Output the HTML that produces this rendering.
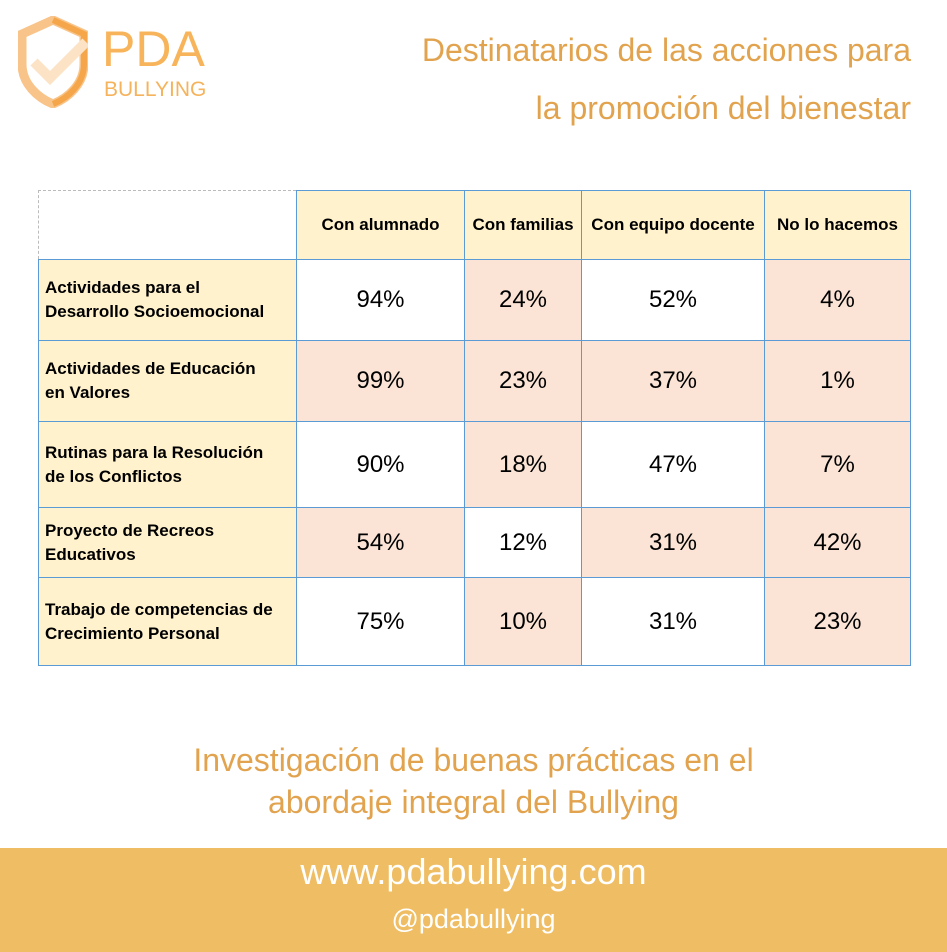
<!DOCTYPE html>
<html><head><meta charset="utf-8"><style>
body{margin:0;width:947px;height:952px;position:relative;background:#fff;font-family:"Liberation Sans",sans-serif;overflow:hidden}
.c{position:absolute;box-sizing:border-box;border:1px solid #5b9bd5;display:flex;align-items:center;justify-content:center;color:#000}
.h{font-weight:bold;font-size:17px}
.l{justify-content:flex-start;padding-left:6px;font-weight:bold;font-size:17px;line-height:24px;background:#fff2cc;white-space:nowrap}
.v{font-size:24px}
.t{position:absolute;color:#e2a34f;white-space:nowrap}
</style></head><body>
<svg style="position:absolute;left:18px;top:16px" width="70" height="92" viewBox="0 0 70 92">
<path d="M35 4 L4 18 V48 C4 68 20 82 35 88 C50 82 66 68 66 48 V18 Z" fill="none" stroke="#f8c48a" stroke-width="9"/>
<path d="M35 4 L66 18 V48 C66 68 50 82 35 88" fill="none" stroke="#f5a64a" stroke-width="6"/>
<path d="M16 46 L32 62 L68 26" fill="none" stroke="#fde3c6" stroke-width="10"/>
</svg>
<div class="t" style="left:102px;top:20px;font-size:50px;color:#f7b45a">PDA</div>
<div class="t" style="left:104px;top:78px;font-size:21px;color:#f5b35c">BULLYING</div>
<div class="t" style="right:36px;top:32px;font-size:32px">Destinatarios de las acciones para</div>
<div class="t" style="right:36px;top:90px;font-size:32px">la promoción del bienestar</div>

<div style="position:absolute;left:38px;top:190px;width:258px;height:69px;box-sizing:border-box;border:1px dashed #bbb;border-right:none;border-bottom:none"></div>
<div class="c h" style="left:296px;top:190px;width:169px;height:70px;background:#fff2cc">Con alumnado</div>
<div class="c h" style="left:464px;top:190px;width:118px;height:70px;background:#fff2cc">Con familias</div>
<div class="c h" style="left:581px;top:190px;width:184px;height:70px;background:#fff2cc">Con equipo docente</div>
<div class="c h" style="left:764px;top:190px;width:147px;height:70px;background:#fff2cc">No lo hacemos</div>

<div class="c l" style="left:38px;top:259px;width:259px;height:82px">Actividades para el<br>Desarrollo Socioemocional</div>
<div class="c v" style="left:296px;top:259px;width:169px;height:82px;background:#fff">94%</div>
<div class="c v" style="left:464px;top:259px;width:118px;height:82px;background:#fbe4d5">24%</div>
<div class="c v" style="left:581px;top:259px;width:184px;height:82px;background:#fff">52%</div>
<div class="c v" style="left:764px;top:259px;width:147px;height:82px;background:#fbe4d5">4%</div>

<div class="c l" style="left:38px;top:340px;width:259px;height:82px">Actividades de Educación<br>en Valores</div>
<div class="c v" style="left:296px;top:340px;width:169px;height:82px;background:#fbe4d5">99%</div>
<div class="c v" style="left:464px;top:340px;width:118px;height:82px;background:#fbe4d5">23%</div>
<div class="c v" style="left:581px;top:340px;width:184px;height:82px;background:#fbe4d5">37%</div>
<div class="c v" style="left:764px;top:340px;width:147px;height:82px;background:#fbe4d5">1%</div>

<div class="c l" style="left:38px;top:421px;width:259px;height:87px">Rutinas para la Resolución<br>de los Conflictos</div>
<div class="c v" style="left:296px;top:421px;width:169px;height:87px;background:#fff">90%</div>
<div class="c v" style="left:464px;top:421px;width:118px;height:87px;background:#fbe4d5">18%</div>
<div class="c v" style="left:581px;top:421px;width:184px;height:87px;background:#fff">47%</div>
<div class="c v" style="left:764px;top:421px;width:147px;height:87px;background:#fbe4d5">7%</div>

<div class="c l" style="left:38px;top:507px;width:259px;height:71px">Proyecto de Recreos<br>Educativos</div>
<div class="c v" style="left:296px;top:507px;width:169px;height:71px;background:#fbe4d5">54%</div>
<div class="c v" style="left:464px;top:507px;width:118px;height:71px;background:#fff">12%</div>
<div class="c v" style="left:581px;top:507px;width:184px;height:71px;background:#fbe4d5">31%</div>
<div class="c v" style="left:764px;top:507px;width:147px;height:71px;background:#fbe4d5">42%</div>

<div class="c l" style="left:38px;top:577px;width:259px;height:89px">Trabajo de competencias de<br>Crecimiento Personal</div>
<div class="c v" style="left:296px;top:577px;width:169px;height:89px;background:#fff">75%</div>
<div class="c v" style="left:464px;top:577px;width:118px;height:89px;background:#fbe4d5">10%</div>
<div class="c v" style="left:581px;top:577px;width:184px;height:89px;background:#fff">31%</div>
<div class="c v" style="left:764px;top:577px;width:147px;height:89px;background:#fbe4d5">23%</div>

<div class="t" style="left:0;width:947px;text-align:center;top:739px;font-size:32px;line-height:42px;white-space:normal">Investigación de buenas prácticas en el<br>abordaje integral del Bullying</div>

<div style="position:absolute;left:0;top:848px;width:947px;height:104px;background:#efbd63"></div>
<div class="t" style="left:0;width:947px;text-align:center;top:851px;font-size:36px;color:#fff">www.pdabullying.com</div>
<div class="t" style="left:0;width:947px;text-align:center;top:904px;font-size:27px;color:#fff">@pdabullying</div>
</body></html>
